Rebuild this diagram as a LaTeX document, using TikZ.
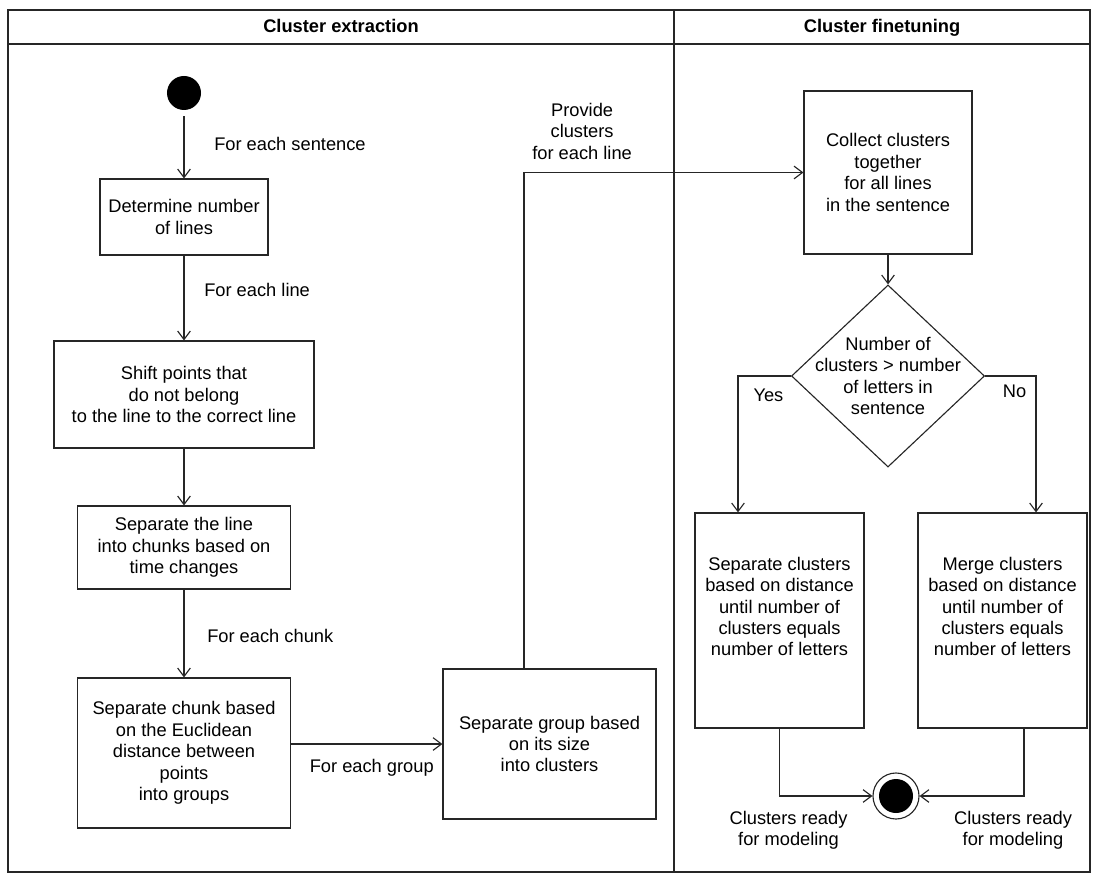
\documentclass[tikz,border=0pt]{standalone}
\usepackage{fontspec}
\setmainfont{Liberation Sans}
\usetikzlibrary{arrows.meta,positioning,shapes.geometric}

\begin{document}
\begin{tikzpicture}[
    x=0.025cm, y=-0.025cm,
    font=\fontsize{13}{15.2}\selectfont,
    action/.style={draw=black!85, line width=0.8pt, rectangle, align=center, inner sep=2pt},
    decision/.style={draw=black!85, line width=0.8pt, diamond, inner sep=0pt},
    startnode/.style={circle, fill=black, minimum size=0.85cm, inner sep=0pt},
    endnode/.style={circle, draw=black!85, line width=0.8pt, minimum size=1.15cm, inner sep=0pt, path picture={\fill[black] (path picture bounding box.center) circle (0.425cm);}},
    lbl/.style={align=center},
    lanetitle/.style={font=\fontsize{13}{15.2}\selectfont\bfseries, anchor=base},
    arrow/.style={-{Straight Barb[length=6pt, width=9pt]}, draw=black!85, line width=0.8pt}
]
    \useasboundingbox (0,0) rectangle (1096,878);

    % Swimlanes
    \draw[black!85, line width=1pt] (8,10) rectangle (1090,872);
    \draw[black!85, line width=1pt] (8,44) -- (1090,44);
    \draw[black!85, line width=1pt] (674,10) -- (674,872);
    \node[lanetitle] (exttitle) at (341,33) {Cluster extraction};
    \node[lanetitle] (fintitle) at (882,33) {Cluster finetuning};

    % Start
    \node[startnode] (start) at (184,93) {};

    % Extraction steps
    \node[action, minimum width=4.2cm, minimum height=1.9cm] (detlines) at (184,217) {Determine number\\of lines};
    \node[action, minimum width=6.5cm, minimum height=2.675cm] (shiftpts) at (184,394.5) {Shift points that\\do not belong\\to the line to the correct line};
    \node[action, minimum width=5.325cm, minimum height=2.075cm] (splitline) at (184,547.5) {Separate the line\\into chunks based on\\time changes};
    \node[action, minimum width=5.325cm, minimum height=3.75cm] (splitchunk) at (184,753) {Separate chunk based\\on the Euclidean\\distance between\\points\\into groups};
    \node[action, minimum width=5.325cm, minimum height=3.75cm] (splitgroup) at (549.5,744) {Separate group based\\on its size\\into clusters};

    % Finetuning steps
    \node[action, minimum width=4.2cm, minimum height=4.075cm] (collect) at (888,172.5) {Collect clusters\\together\\for all lines\\in the sentence};
    \node[decision, minimum width=4.825cm, minimum height=4.55cm] (decide) at (888,376) {};
    \node[lbl] (decidetxt) at (decide) {Number of\\clusters > number\\of letters in\\sentence};
    \node[action, minimum width=4.225cm, minimum height=5.375cm] (splitclus) at (779.5,620.5) {Separate clusters\\based on distance\\until number of\\clusters equals\\number of letters\\\strut};
    \node[action, minimum width=4.225cm, minimum height=5.375cm] (mergeclus) at (1002.5,620.5) {Merge clusters\\based on distance\\until number of\\clusters equals\\number of letters\\\strut};

    % End
    \node[endnode] (finish) at (896,796) {};

    % Arrows
    \draw[arrow, shorten <=0.15cm] (start) -- (detlines) node[lbl, midway, anchor=west, xshift=0.625cm] {For each sentence};
    \draw[arrow] (detlines) -- (shiftpts) node[lbl, pos=0.41, anchor=west, xshift=0.375cm] {For each line};
    \draw[arrow] (shiftpts) -- (splitline);
    \draw[arrow] (splitline) -- (splitchunk) node[lbl, pos=0.53, anchor=west, xshift=0.45cm] {For each chunk};
    \draw[arrow] (splitchunk.east |- splitgroup.west) -- (splitgroup.west) node[lbl, midway, below=0.25cm, xshift=0.125cm] {For each group};
    \draw[arrow] ([xshift=-0.6375cm]splitgroup.north) |- node[lbl, pos=0.604, above=0.2cm] {Provide\\clusters\\for each line} (collect.west);
    \draw[arrow] (collect) -- (decide);
    \draw[arrow] (decide.west) -| node[lbl, pos=0.25, below=0.2cm, xshift=0.1cm] {Yes} ([xshift=-1.0375cm]splitclus.north);
    \draw[arrow] (decide.east) -| node[lbl, pos=0.25, below=0.1cm, xshift=0.1cm] {No} ([xshift=0.8375cm]mergeclus.north);
    \draw[arrow] (splitclus.south) |- node[lbl, pos=0.5, below=0.25cm, xshift=0.225cm] {Clusters ready\\for modeling} (finish.west);
    \draw[arrow] ([xshift=0.5375cm]mergeclus.south) |- node[lbl, pos=0.5, below=0.25cm, xshift=-0.275cm] {Clusters ready\\for modeling} (finish.east);
\end{tikzpicture}
\end{document}
